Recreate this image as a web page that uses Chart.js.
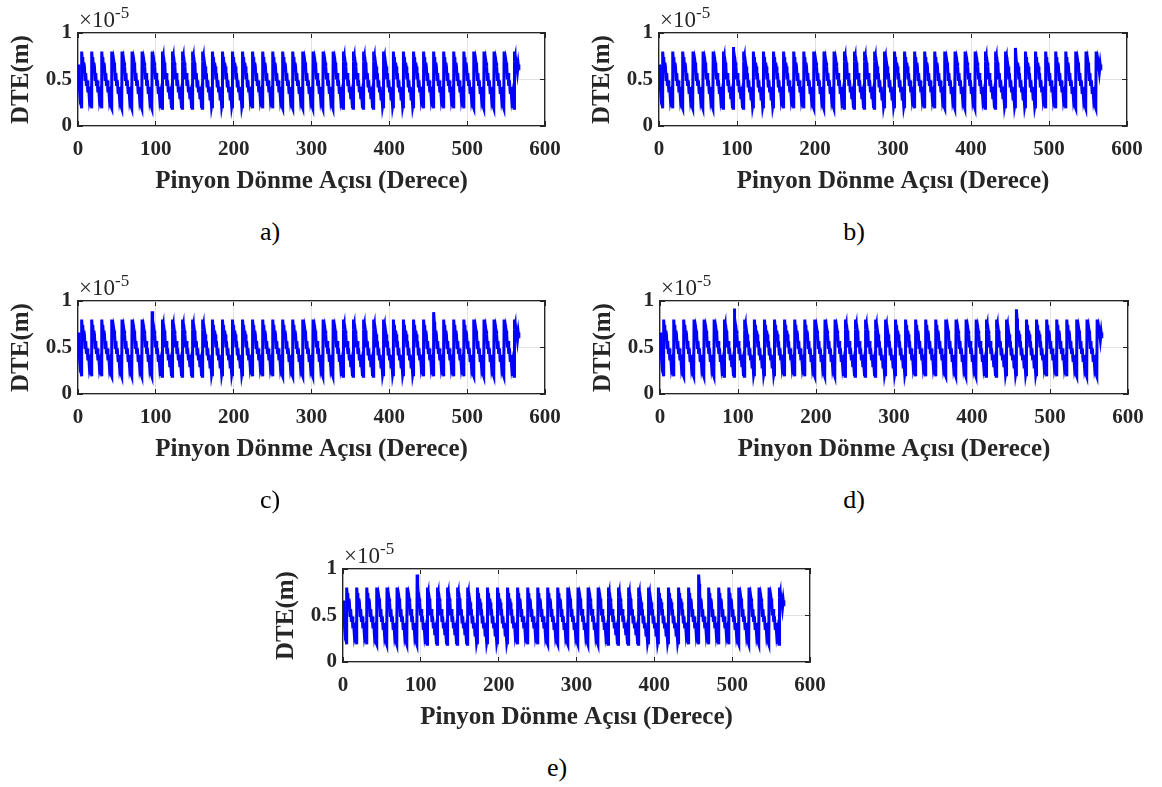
<!DOCTYPE html>
<html><head><meta charset="utf-8">
<script src="https://cdn.jsdelivr.net/npm/chart.js@4.4.1/dist/chart.umd.min.js"></script>
<style>
body{margin:0;background:#fff;width:1162px;height:787px;position:relative;overflow:hidden;font-family:"Liberation Serif","Times New Roman",serif;}
.panel{position:absolute;width:620px;height:200px;}
.panel canvas{position:absolute;left:0;top:0;}
.exp{position:absolute;font-size:23px;line-height:23px;color:#262626;white-space:nowrap;font-family:"Liberation Serif",serif;}
.exp sup{font-size:17px;position:relative;top:-9px;vertical-align:baseline;}
.cap{position:absolute;font-size:26px;line-height:26px;color:#000;transform:translateX(-50%);font-family:"Liberation Serif",serif;}
</style></head><body>
<div class="panel" style="left:0;top:0"><canvas id="ca" width="620" height="200"></canvas></div>
<div class="panel" style="left:581px;top:0"><canvas id="cb" width="620" height="200"></canvas></div>
<div class="panel" style="left:0;top:268px"><canvas id="cc" width="620" height="200"></canvas></div>
<div class="panel" style="left:582px;top:268px"><canvas id="cd" width="620" height="200"></canvas></div>
<div class="panel" style="left:265px;top:536px"><canvas id="ce" width="620" height="200"></canvas></div>

<div class="exp" style="left:79px;top:8px">×10<sup>-5</sup></div>
<div class="exp" style="left:660px;top:8px">×10<sup>-5</sup></div>
<div class="exp" style="left:79px;top:276px">×10<sup>-5</sup></div>
<div class="exp" style="left:661px;top:276px">×10<sup>-5</sup></div>
<div class="exp" style="left:344px;top:544px">×10<sup>-5</sup></div>

<div class="cap" style="left:270px;top:219px">a)</div>
<div class="cap" style="left:854px;top:219px">b)</div>
<div class="cap" style="left:270px;top:487px">c)</div>
<div class="cap" style="left:854px;top:487px">d)</div>
<div class="cap" style="left:557px;top:755px">e)</div>

<script>
// ---- data (DTE in units of 1e-5 m, angle in degrees) ----
const xTickValues = [0, 100, 200, 300, 400, 500, 600];
const yTickValues = [0, 0.5, 1];
const yTickLabels = ['0', '0.5', '1'];
const xAxisTitle = 'Pinyon Dönme Açısı (Derece)';
const yAxisTitle = 'DTE(m)';

// start angle of each tooth-mesh cycle (vertical rise)
const toothStarts = [4.6, 17.5, 30.4, 43.4, 56.3, 69.2, 82.1, 95.0, 108.0, 120.9,
  133.8, 146.7, 159.6, 172.6, 185.5, 198.4, 211.3, 224.2, 237.2, 250.1,
  263.0, 275.9, 288.8, 301.8, 314.7, 327.6, 340.5, 353.4, 366.4, 379.3,
  392.2, 405.1, 418.0, 431.0, 443.9, 456.8, 469.7, 482.6, 495.6, 508.5,
  521.4, 534.3, 547.2, 560.2];
// shape of one cycle: offset from cycle start, DTE value
const toothPhase = [0, 0.25, 0.9, 1.5, 2.2, 2.9, 3.6, 4.5, 5.3, 6.2, 7.1, 8.1, 9.0, 10.0, 11.0, 12.0, 12.6];
const toothShape = [0.19, 0.80, 0.70, 0.74, 0.60, 0.68, 0.64, 0.50, 0.57, 0.43, 0.49, 0.36, 0.42, 0.29, 0.34, 0.21, 0.24];
// start of the record, before the first cycle
const leadInX = [0, 0.4, 1.2, 2.2, 3.2, 4.2];
const leadInY = [0.66, 0.42, 0.52, 0.36, 0.42, 0.24];
// end of the record
const tailX = [564.6, 565.6, 566.4];
const tailY = [0.58, 0.66, 0.60];

// cycles with a raised peak (fault), per panel
const spikeTeeth = [7, 35];
const spikePeaksA = [0.80, 0.80];
const spikePeaksB = [0.85, 0.84];
const spikePeaksC = [0.89, 0.88];
const spikePeaksD = [0.92, 0.91];
const spikePeaksE = [0.94, 0.94];

function buildSeries(spikePeaks) {
  const pts = [];
  for (let i = 0; i < leadInX.length; i++) pts.push({x: leadInX[i], y: leadInY[i]});
  toothStarts.forEach((s, k) => {
    const si = spikeTeeth.indexOf(k);
    for (let j = 0; j < toothPhase.length; j++) {
      const x = s + toothPhase[j];
      if (x >= tailX[0]) break;
      let y = toothShape[j];
      if (si >= 0 && j === 1) y = spikePeaks[si];
      if (si >= 0 && j === 2) y = Math.max(y, spikePeaks[si] - 0.1);
      pts.push({x, y});
    }
  });
  for (let i = 0; i < tailX.length; i++) pts.push({x: tailX[i], y: tailY[i]});
  return pts;
}

const AX = '#262626';
const GRID = '#e2e2e2';
const tickFont = {family: '"Liberation Serif", serif', size: 21, weight: 'bold'};
const titleFont = {family: '"Liberation Serif", serif', size: 25, weight: 'bold'};

function makeChart(id, spikePeaks, rightPad) {
  new Chart(document.getElementById(id), {
    type: 'line',
    data: {datasets: [{data: buildSeries(spikePeaks), borderColor: '#0000ff', borderWidth: 3,
      pointRadius: 0, tension: 0, fill: false}]},
    options: {
      responsive: false, animation: false, events: [],
      layout: {padding: {left: 0, top: 33, right: rightPad, bottom: 0}},
      plugins: {legend: {display: false}, tooltip: {enabled: false}},
      scales: {
        x: {type: 'linear', position: 'bottom', min: 0, max: 600,
          afterBuildTicks: s => { s.ticks = xTickValues.map(v => ({value: v})); },
          ticks: {font: tickFont, color: AX, padding: 16, maxRotation: 0, autoSkip: false},
          grid: {color: GRID, lineWidth: 1, tickLength: -5, tickColor: AX},
          border: {color: AX, width: 1.3},
          title: {display: true, text: xAxisTitle, font: titleFont, color: AX, padding: {top: 0, bottom: 3}},
          afterFit: s => { s.height = 74; }},
        x2: {type: 'linear', position: 'top', min: 0, max: 600,
          afterBuildTicks: s => { s.ticks = xTickValues.map(v => ({value: v})); },
          ticks: {display: false},
          grid: {drawOnChartArea: false, tickLength: -5, tickColor: AX, lineWidth: 1},
          border: {color: AX, width: 1.3},
          afterFit: s => { s.height = 0; }},
        y: {type: 'linear', position: 'left', min: 0, max: 1,
          afterBuildTicks: s => { s.ticks = yTickValues.map(v => ({value: v})); },
          ticks: {font: tickFont, color: AX, padding: 11, callback: (v) => yTickLabels[yTickValues.indexOf(v)]},
          grid: {color: GRID, lineWidth: 1, tickLength: -5, tickColor: AX},
          border: {color: AX, width: 1.3},
          title: {display: true, text: yAxisTitle, font: titleFont, color: AX, padding: {top: 7, bottom: 0}},
          afterFit: s => { s.width = 78; }},
        y2: {type: 'linear', position: 'right', min: 0, max: 1,
          afterBuildTicks: s => { s.ticks = yTickValues.map(v => ({value: v})); },
          ticks: {display: false},
          grid: {drawOnChartArea: false, tickLength: -5, tickColor: AX, lineWidth: 1},
          border: {color: AX, width: 1.3},
          afterFit: s => { s.width = 0; }}
      }
    }
  });
}

makeChart('ca', spikePeaksA, 75);
makeChart('cb', spikePeaksB, 74);
makeChart('cc', spikePeaksC, 75);
makeChart('cd', spikePeaksD, 74);
makeChart('ce', spikePeaksE, 75);
</script>
</body></html>
